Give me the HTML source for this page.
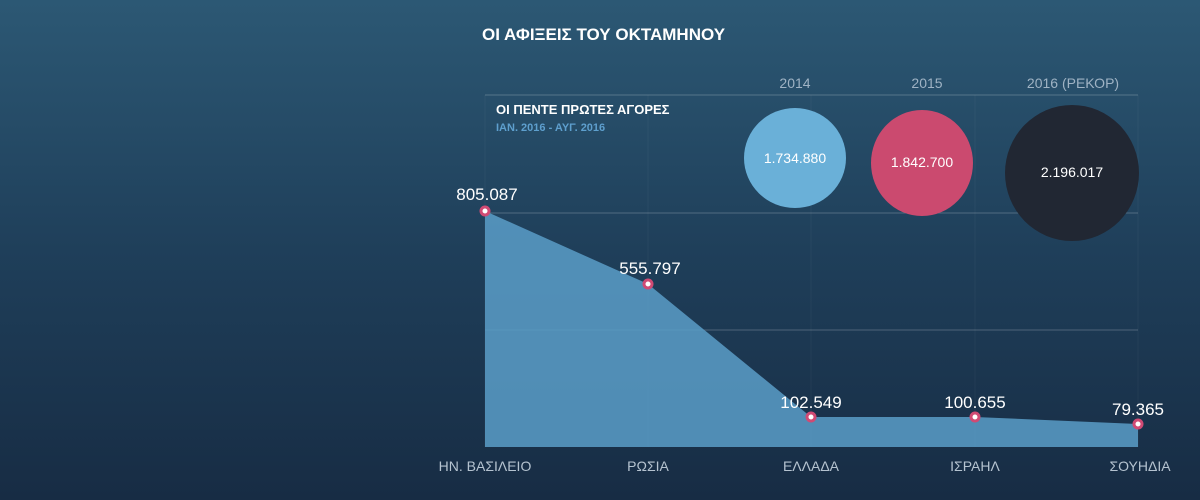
<!DOCTYPE html>
<html style="margin:0;width:1200px;height:500px;overflow:hidden;background:#172c44"><head><meta charset="utf-8"><style>
body{margin:0;width:1200px;height:500px;overflow:hidden;background:linear-gradient(180deg,#2c5874 0%,#1f3f5a 50%,#172c44 100%);font-family:"Liberation Sans",sans-serif;}
svg{display:block}
</style></head><body>
<svg width="1200" height="500" xmlns="http://www.w3.org/2000/svg" font-family="Liberation Sans, sans-serif">
<text x="482" y="40" fill="#fff" font-size="17" font-weight="bold">ΟΙ ΑΦΙΞΕΙΣ ΤΟΥ ΟΚΤΑΜΗΝΟΥ</text>
<g stroke="#ffffff" stroke-opacity="0.04">
<line x1="648" y1="95" x2="648" y2="447"/><line x1="811" y1="95" x2="811" y2="447"/><line x1="975" y1="95" x2="975" y2="447"/><line x1="1138" y1="95" x2="1138" y2="447"/><line x1="485" y1="95" x2="485" y2="447"/>
</g>
<g stroke="#ffffff" stroke-opacity="0.22">
<line x1="485" y1="95" x2="1138" y2="95"/><line x1="485" y1="213" x2="1138" y2="213"/><line x1="485" y1="330" x2="1138" y2="330"/>
</g>
<g fill="#9fb3c4" font-size="14" text-anchor="middle">
<text x="795" y="88">2014</text><text x="927" y="88">2015</text><text x="1073" y="88">2016 (ΡΕΚΟΡ)</text>
</g>
<text x="496" y="114" fill="#fff" font-size="13" font-weight="bold">ΟΙ ΠΕΝΤΕ ΠΡΩΤΕΣ ΑΓΟΡΕΣ</text>
<text x="496" y="131" fill="#5e9fce" font-size="11" font-weight="bold">ΙΑΝ. 2016 - ΑΥΓ. 2016</text>
<ellipse cx="795" cy="158" rx="51" ry="50" fill="#6ab0d8"/>
<ellipse cx="922" cy="163" rx="51" ry="53" fill="#cb4a6f"/>
<ellipse cx="1072" cy="173" rx="67" ry="68" fill="#212733"/>
<g fill="#fff" font-size="14" text-anchor="middle">
<text x="795" y="163">1.734.880</text><text x="922" y="167">1.842.700</text><text x="1072" y="177">2.196.017</text>
</g>
<polygon points="485,211 648,284 811,417 975,417 1138,424 1138,447 485,447" fill="#5b9ec8" fill-opacity="0.85"/>
<g fill="#fff" stroke="#d04a74" stroke-width="3">
<circle cx="485" cy="211" r="4"/><circle cx="648" cy="284" r="4"/><circle cx="811" cy="417" r="4"/><circle cx="975" cy="417" r="4"/><circle cx="1138" cy="424" r="4"/>
</g>
<g fill="#fff" font-size="17" text-anchor="middle">
<text x="487" y="200">805.087</text><text x="650" y="274">555.797</text><text x="811" y="408">102.549</text><text x="975" y="408">100.655</text><text x="1138" y="415">79.365</text>
</g>
<g fill="#b5c3d0" font-size="14" text-anchor="middle">
<text x="485" y="471">ΗΝ. ΒΑΣΙΛΕΙΟ</text><text x="648" y="471">ΡΩΣΙΑ</text><text x="811" y="471">ΕΛΛΑΔΑ</text><text x="975" y="471">ΙΣΡΑΗΛ</text><text x="1140" y="471">ΣΟΥΗΔΙΑ</text>
</g>
</svg>
</body></html>
